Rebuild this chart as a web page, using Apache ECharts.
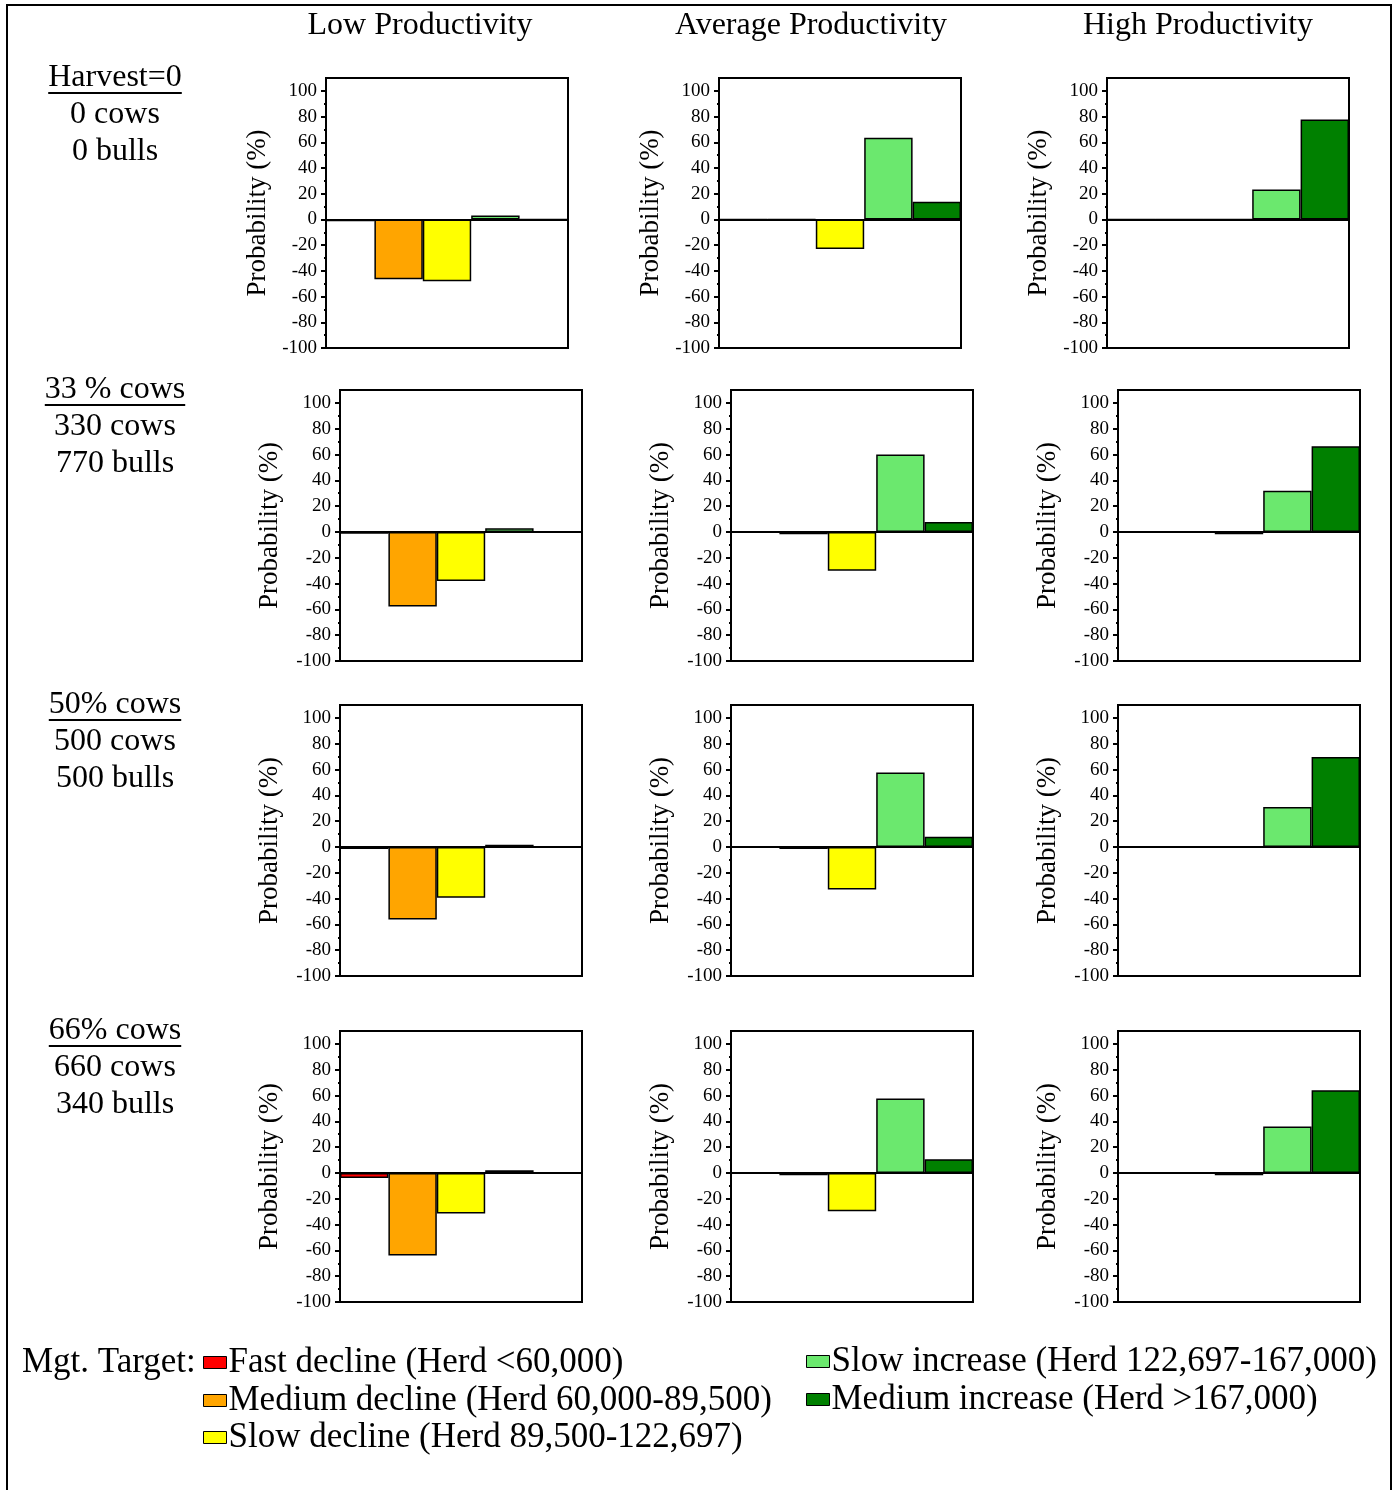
<!DOCTYPE html>
<html>
<head>
<meta charset="utf-8">
<title>Herd size outcome probabilities by harvest level and productivity</title>
<script src="https://cdn.jsdelivr.net/npm/echarts@6/dist/echarts.min.js"></script>
<style>
  html, body { margin: 0; padding: 0; background: #fff; }
  #chart { width: 1398px; height: 1490px; }
</style>
</head>
<body>
<div id="chart"></div>
<script>
// Outcome classes (declines plotted as negative probabilities)
const outcomes = [
  'Fast decline (Herd <60,000)',
  'Medium decline (Herd 60,000-89,500)',
  'Slow decline (Herd 89,500-122,697)',
  'Slow increase (Herd 122,697-167,000)',
  'Medium increase (Herd >167,000)'
];
const outcomeColors = ['#ff0000', '#ffa500', '#ffff00', '#6be86e', '#008000'];

const productivity = ['Low Productivity', 'Average Productivity', 'High Productivity'];

const harvestLabels = [
  ['Harvest=0', '0 cows', '0 bulls'],
  ['33 % cows', '330 cows', '770 bulls'],
  ['50% cows', '500 cows', '500 bulls'],
  ['66% cows', '660 cows', '340 bulls']
];

const yTicks = [-100, -80, -60, -40, -20, 0, 20, 40, 60, 80, 100];

// Probability (%) for each outcome class, per harvest level (rows) and productivity (columns)
const harvest0Low  = [-1.5, -46.5, -48, 3, 0];
const harvest0Avg  = [0, -0.3, -23, 63.5, 13.7];
const harvest0High = [0, 0, 0, 23.3, 77.7];

const harvest33Low  = [-1.3, -57.7, -38, 2.8, 0];
const harvest33Avg  = [-0.3, -1.8, -30, 60, 7.7];
const harvest33High = [0, 0, -1.8, 32, 66.5];

const harvest50Low  = [-1.5, -56.3, -39.3, 1.8, 0];
const harvest50Avg  = [0, -1.5, -33, 57.6, 8];
const harvest50High = [0, 0, -0.5, 31, 69.8];

const harvest66Low  = [-3.9, -64, -31.5, 2, 0];
const harvest66Avg  = [0, -1.8, -29.7, 57.6, 10.6];
const harvest66High = [0, 0, -1.8, 35.9, 64];

const panelRows = [
  [harvest0Low, harvest0Avg, harvest0High],
  [harvest33Low, harvest33Avg, harvest33High],
  [harvest50Low, harvest50Avg, harvest50High],
  [harvest66Low, harvest66Avg, harvest66High]
];

// Panel frame layout (pixels)
const rowTops = [78, 390, 705, 1031];
const colLefts = [
  [326, 719, 1107],
  [340, 731, 1118],
  [340, 731, 1118],
  [340, 731, 1118]
];
const panelW = 242;
const panelHeights = [270, 271, 271, 271];

const FONT = '"Liberation Serif", "Times New Roman", serif';

const chart = echarts.init(document.getElementById('chart'), null, { renderer: 'canvas' });

const grids = [], xAxes = [], yAxes = [], series = [];
let gi = 0;
panelRows.forEach((row, r) => {
  row.forEach((vals, c) => {
    grids.push({
      left: colLefts[r][c], top: rowTops[r], width: panelW, height: panelHeights[r],
      show: true, borderColor: '#000', borderWidth: 2, backgroundColor: '#fff',
      containLabel: false
    });
    xAxes.push({
      gridIndex: gi, type: 'category', data: outcomes,
      axisLine: { show: true, onZero: true, lineStyle: { color: '#000', width: 2 } },
      axisTick: { show: false }, axisLabel: { show: false }, splitLine: { show: false }
    });
    yAxes.push({
      gridIndex: gi, type: 'value', min: -100, max: 110, interval: 20,
      name: 'Probability (%)', nameLocation: 'middle', nameGap: r === 0 ? 55 : 57,
      nameTextStyle: { fontFamily: FONT, fontSize: 27, color: '#000' },
      axisLine: { show: true, lineStyle: { color: '#000', width: 2 } },
      axisTick: { show: true, length: 5, lineStyle: { color: '#000', width: 2 }, customValues: yTicks },
      minorTick: { show: true, splitNumber: 2, length: 2, lineStyle: { color: '#000', width: 2 } },
      axisLabel: { fontFamily: FONT, fontSize: 19, color: '#000', margin: 9, customValues: yTicks },
      splitLine: { show: false }
    });
    outcomes.forEach((name, k) => {
      series.push({
        type: 'bar', name: name, xAxisIndex: gi, yAxisIndex: gi,
        stack: 'panel' + gi,
        barGap: '0%', barCategoryGap: '0%',
        itemStyle: { color: outcomeColors[k], borderColor: '#000', borderWidth: 1.5 },
        emphasis: { disabled: true },
        data: vals.map((v, j) => (j === k ? v : '-'))
      });
    });
    gi++;
  });
});

// Legend: one block per outcome class
const legendPos = [
  { left: 203, top: 1345 },
  { left: 203, top: 1383 },
  { left: 203, top: 1420 },
  { left: 806, top: 1344 },
  { left: 806, top: 1382 }
];
const legends = outcomes.map((name, k) => ({
  data: [name], left: legendPos[k].left, top: legendPos[k].top,
  padding: 0, itemWidth: 23, itemHeight: 12, icon: 'rect',
  selectedMode: false,
  itemStyle: { borderColor: '#000', borderWidth: 1 },
  textStyle: { fontFamily: FONT, fontSize: 35, color: '#000', padding: [0, 0, 0, -3] }
}));

// Text: column titles, row labels, legend caption, outer frame
const graphics = [];
graphics.push({
  type: 'rect', shape: { x: 7, y: 5, width: 1384, height: 1500 },
  style: { fill: 'none', stroke: '#000', lineWidth: 2 }, silent: true, z: 0
});
const titleCenters = [420, 811, 1198];
productivity.forEach((t, i) => {
  graphics.push({
    type: 'text', x: titleCenters[i], y: 26,
    style: { text: t, font: '32px ' + FONT, fill: '#000', align: 'center', verticalAlign: 'middle' }
  });
});
const labelTops = [78, 390, 705, 1031];
harvestLabels.forEach((lines, r) => {
  lines.forEach((t, j) => {
    graphics.push({
      type: 'text', x: 115, y: labelTops[r] + j * 37,
      style: { text: t, font: '32px ' + FONT, fill: '#000', align: 'center', verticalAlign: 'middle' }
    });
  });
});
graphics.push({
  type: 'text', x: 22, y: 1363,
  style: { text: 'Mgt. Target:', font: '35px ' + FONT, fill: '#000', align: 'left', verticalAlign: 'middle' }
});

chart.setOption({
  animation: false,
  backgroundColor: '#fff',
  grid: grids,
  xAxis: xAxes,
  yAxis: yAxes,
  series: series,
  legend: legends,
  graphic: graphics
});

// Underline the first line of each row label, sized to the drawn text
const underlines = [];
harvestLabels.forEach((lines, r) => {
  const w = echarts.format.getTextRect ? echarts.format.getTextRect(lines[0], '32px ' + FONT).width : 134;
  underlines.push({
    type: 'line',
    shape: { x1: 115 - w / 2, y1: labelTops[r] + 15, x2: 115 + w / 2, y2: labelTops[r] + 15 },
    style: { stroke: '#000', lineWidth: 2 }, silent: true
  });
});
chart.setOption({ graphic: graphics.concat(underlines) });
</script>
</body>
</html>
